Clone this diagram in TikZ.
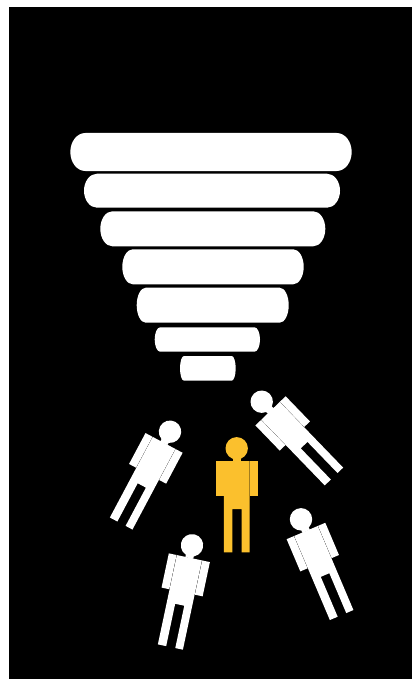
\documentclass[tikz,border=0pt]{standalone}
\definecolor{crowd}{HTML}{FFFFFF}
\definecolor{chosen}{HTML}{FBC02D}
% x0 x1 y0 y1 inset
\newcommand{\funnelbar}[5]{
  \fill[white] ({#1+#5},#3) -- ({#2-#5},#3)
    arc[start angle=90, end angle=-90, x radius=#5pt, y radius={(#4-#3)/2*1pt}]
    -- ({#1+#5},#4)
    arc[start angle=270, end angle=90, x radius=#5pt, y radius={(#4-#3)/2*1pt}] -- cycle;
}
\tikzset{
  person/.pic={
    \fill[pic actions] (0,0) circle (11.2);
    \fill[pic actions] (-4,9) rectangle (4,13);
    \fill[pic actions] (-21,12.7) rectangle (-13.1,47.7);
    \fill[pic actions] (13.1,12.7) rectangle (21,47.7);
    \fill[pic actions] (-12.8,12.7) -- (12.8,12.7) -- (12.8,104) -- (5,104) -- (5,60.7) -- (-4.3,60.7) -- (-4.3,104) -- (-12.8,104) -- cycle;
  },
}
\begin{document}
\begin{tikzpicture}[x=1pt,y=-1pt]
\useasboundingbox (0,0) rectangle (412,679);
\fill[white] (0,0) rectangle (412,679);
\fill[black] (9,7) rectangle (412,679);

% funnel
\funnelbar{70.3}{351.7}{133}{171}{15}
\funnelbar{84}{340}{173.7}{207.7}{13}
\funnelbar{100.3}{325.3}{211.3}{246.3}{12}
\funnelbar{122.3}{303.7}{249.3}{284.3}{10.5}
\funnelbar{136.7}{288.7}{287.7}{322.7}{9}
\funnelbar{154.7}{260}{327.3}{351.7}{5.5}
\funnelbar{180}{235.7}{356}{380.7}{4}

% people
\pic[fill=chosen] at (236.7,448.3) {person};
\pic[fill=crowd, rotate=-28] at (170,431.7) {person};
\pic[fill=crowd, rotate=44] at (261.7,401.7) {person};
\pic[fill=crowd, rotate=-12] at (192,545.3) {person};
\pic[fill=crowd, rotate=23] at (301,519.3) {person};
\end{tikzpicture}
\end{document}
